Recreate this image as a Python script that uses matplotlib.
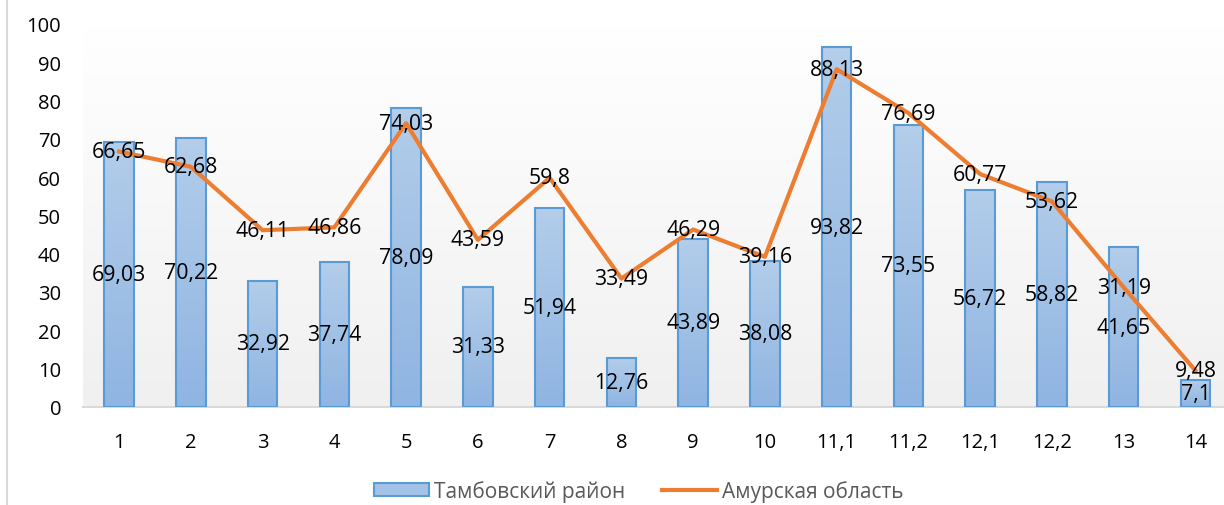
import matplotlib.pyplot as plt
import numpy as np
from matplotlib import colors
from matplotlib.lines import Line2D
from matplotlib.patches import Patch

categories = ['1', '2', '3', '4', '5', '6', '7', '8', '9', '10',
              '11,1', '11,2', '12,1', '12,2', '13', '14']
tambov = [69.03, 70.22, 32.92, 37.74, 78.09, 31.33, 51.94, 12.76,
          43.89, 38.08, 93.82, 73.55, 56.72, 58.82, 41.65, 7.1]
amur = [66.65, 62.68, 46.11, 46.86, 74.03, 43.59, 59.8, 33.49,
        46.29, 39.16, 88.13, 76.69, 60.77, 53.62, 31.19, 9.48]

plt.rcParams['font.family'] = ['Open Sans', 'DejaVu Sans']


def fmt(v):
    return ('%g' % v).replace('.', ',')


fig = plt.figure(figsize=(12.24, 5.06), dpi=100)
ax = fig.add_axes([0.068, 0.194, 0.938, 0.757])
x = np.arange(len(categories))

# background gradient of the plot area
bg = colors.LinearSegmentedColormap.from_list('bg', ['#ffffff', '#f0f0f0'])
ax.imshow(np.linspace(0, 1, 100).reshape(-1, 1), cmap=bg, aspect='auto',
          extent=(-0.5, len(x) - 0.5, 0, 100), origin='upper', zorder=0)

# bars with gradient fill
bar_cmap = colors.LinearSegmentedColormap.from_list('bar', ['#b3cdea', '#8fb5e2'])
bars = ax.bar(x, tambov, width=0.41, color='none', edgecolor='#5b9bd5',
              linewidth=1.5, zorder=3)
for b in bars:
    bx, by = b.get_x(), b.get_y()
    im = ax.imshow(np.linspace(0, 1, 50).reshape(-1, 1), cmap=bar_cmap,
                   aspect='auto', origin='upper', zorder=2,
                   extent=(bx, bx + b.get_width(), by, by + b.get_height()))
    im.set_clip_path(b)

ax.plot(x, amur, color='#ed7d31', linewidth=3, zorder=4, solid_joinstyle='round')

for xi, v in zip(x, tambov):
    ax.text(xi, v / 2, fmt(v), ha='center', va='center', fontsize=15.3, zorder=5)
for xi, v in zip(x, amur):
    ax.text(xi, v, fmt(v), ha='center', va='center', fontsize=15.3, zorder=5)

ax.set_xlim(-0.5, len(x) - 0.5)
ax.set_ylim(0, 100)
ax.set_yticks(np.arange(0, 101, 10))
ax.set_xticks(x)
ax.set_xticklabels(categories)
ax.tick_params(length=0, labelsize=14.5, colors='black')
ax.tick_params(axis='x', pad=18)
ax.tick_params(axis='y', pad=16)
for s in ['top', 'right', 'left']:
    ax.spines[s].set_visible(False)
ax.spines['bottom'].set_color('#d9d9d9')
ax.spines['bottom'].set_linewidth(1.5)
ax.spines['bottom'].set_zorder(1)

handles = [Patch(facecolor='#a3c2e6', edgecolor='#5b9bd5', linewidth=1.5),
           Line2D([0], [0], color='#ed7d31', linewidth=3)]
leg = fig.legend(handles, ['Тамбовский район', 'Амурская область'],
                 loc='center', bbox_to_anchor=(0.522, 0.028), ncol=2,
                 frameon=False, fontsize=15, handlelength=2.6,
                 handleheight=0.6, columnspacing=1.8, handletextpad=0.25)
for t in leg.get_texts():
    t.set_color('#595959')

fig.add_artist(Line2D([0.006, 0.006], [0, 1], color='#d9d9d9', linewidth=1.5,
                      transform=fig.transFigure))

fig.savefig('out.png', dpi=100)
